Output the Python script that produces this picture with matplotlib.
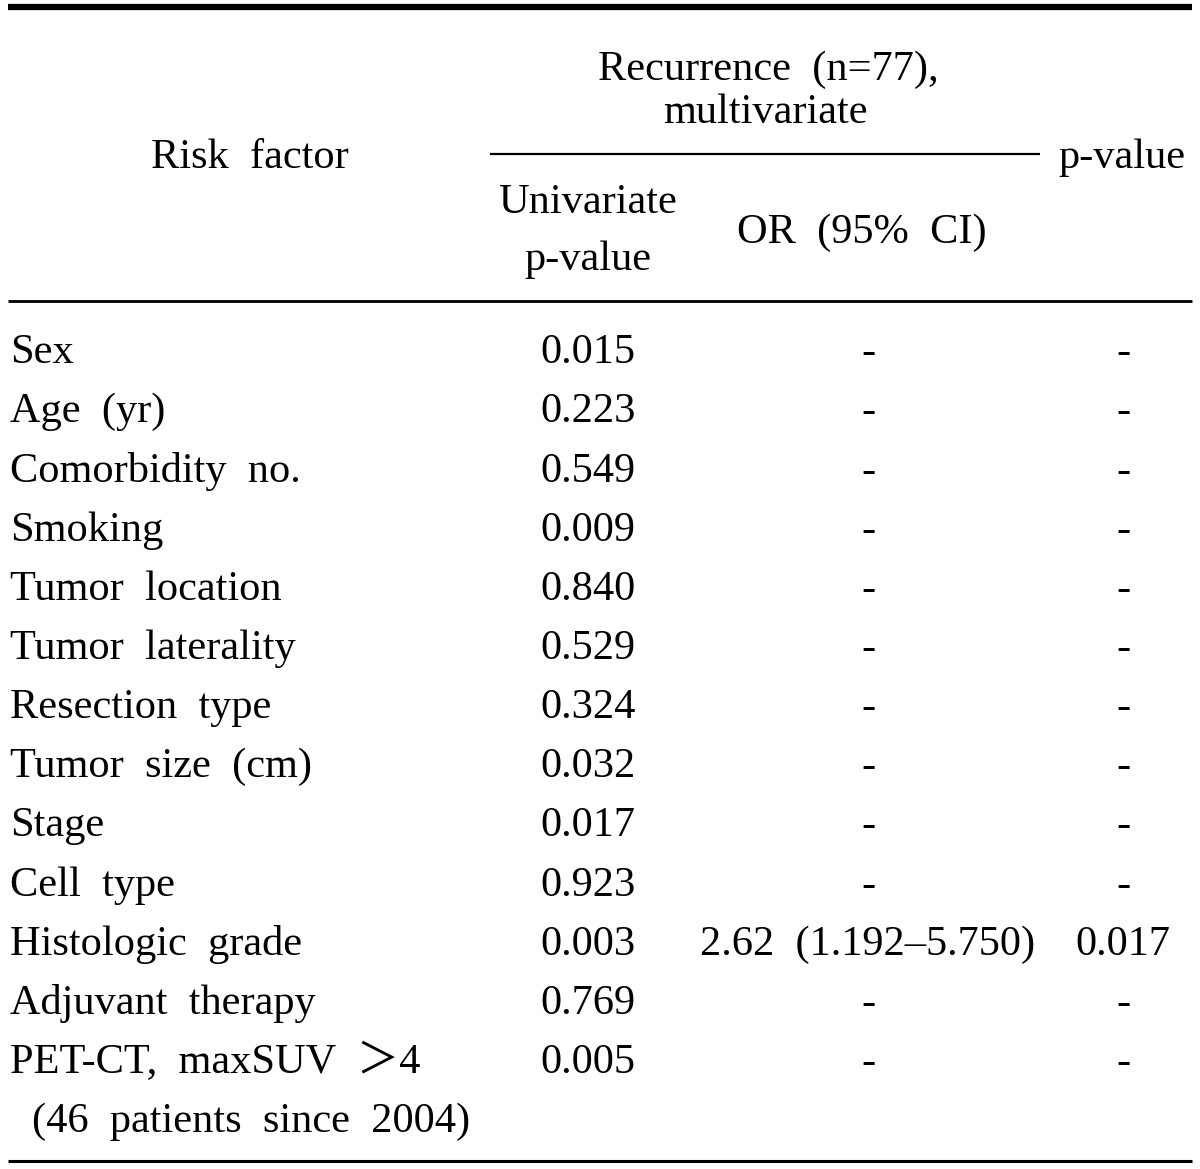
import matplotlib
matplotlib.use('Agg')
import matplotlib.pyplot as plt

plt.rcParams['font.family'] = ['Liberation Serif', 'Noto Sans CJK JP', 'DejaVu Serif']

# table content
risk_factors = ['Sex', 'Age (yr)', 'Comorbidity no.', 'Smoking', 'Tumor location',
                'Tumor laterality', 'Resection type', 'Tumor size (cm)', 'Stage',
                'Cell type', 'Histologic grade', 'Adjuvant therapy',
                'PET-CT, maxSUV \uff1e4']
univariate_p = ['0.015', '0.223', '0.549', '0.009', '0.840', '0.529', '0.324',
                '0.032', '0.017', '0.923', '0.003', '0.769', '0.005']
odds_ratio = ['-', '-', '-', '-', '-', '-', '-', '-', '-', '-',
              '2.62 (1.192\u20135.750)', '-', '-']
multi_p = ['-', '-', '-', '-', '-', '-', '-', '-', '-', '-', '0.017', '-', '-']
footnote_row = '(46 patients since 2004)'

W, H = 1200, 1169
fig = plt.figure(figsize=(W / 100, H / 100), dpi=100)
ax = fig.add_axes([0, 0, 1, 1])
ax.set_xlim(0, W)
ax.set_ylim(H, 0)
ax.axis('off')

fs = 30.5

def sp(s):
    # the typeset table uses wide word spacing
    return s.replace(' ', '  ')

# rules
ax.plot([8, 1192], [7, 7], color='black', lw=4.5, solid_capstyle='butt')
ax.plot([490, 1040], [154, 154], color='black', lw=1.6, solid_capstyle='butt')
ax.plot([8, 1192], [301, 301], color='black', lw=2.0, solid_capstyle='butt')
ax.plot([8, 1192], [1161, 1161], color='black', lw=2.2, solid_capstyle='butt')

# header
ax.text(250, 158, sp('Risk factor'), fontsize=fs, ha='center', va='center')
ax.text(768, 70, sp('Recurrence (n=77),'), fontsize=fs, ha='center', va='center')
ax.text(765, 113, 'multivariate', fontsize=fs, ha='center', va='center')
ax.text(1122, 158, 'p-value', fontsize=fs, ha='center', va='center')
ax.text(588, 203, 'Univariate', fontsize=fs, ha='center', va='center')
ax.text(588, 260, 'p-value', fontsize=fs, ha='center', va='center')
ax.text(862, 233, sp('OR (95% CI)'), fontsize=fs, ha='center', va='center')

# body rows
y0, dy = 353, 59.15
for i in range(len(risk_factors)):
    y = y0 + i * dy
    ax.text(10, y, sp(risk_factors[i]), fontsize=fs, ha='left', va='center')
    ax.text(588, y, univariate_p[i], fontsize=fs, ha='center', va='center')
    ax.text(868, y, sp(odds_ratio[i]), fontsize=fs, ha='center', va='center')
    ax.text(1123, y, multi_p[i], fontsize=fs, ha='center', va='center')
ax.text(32, y0 + len(risk_factors) * dy, sp(footnote_row), fontsize=fs,
        ha='left', va='center')

fig.savefig('out.png', dpi=100)
